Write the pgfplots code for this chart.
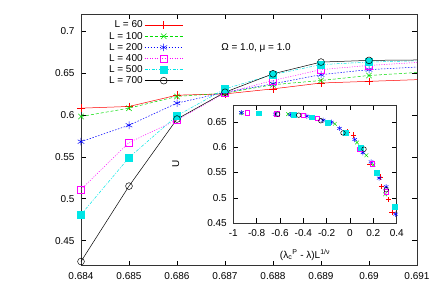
\documentclass[border=0pt]{standalone}
\usepackage{fontspec}
\setmainfont{Liberation Sans}
\usepackage{pgfplots}
\pgfplotsset{compat=1.18}
\definecolor{gred}{RGB}{255,0,0}
\definecolor{ggreen}{RGB}{0,220,0}
\definecolor{gblue}{RGB}{0,0,255}
\definecolor{gmag}{RGB}{255,0,255}
\definecolor{gcyan}{RGB}{0,230,230}
\pgfdeclareplotmark{hlinemark}{\pgfpathmoveto{\pgfpoint{-0.67cm}{0pt}}\pgfpathlineto{\pgfpoint{0.67cm}{0pt}}\pgfusepathqstroke}
\begin{document}
\fontsize{10}{12}\selectfont
\begin{tikzpicture}
\path[use as bounding box] (-81pt,-39.3pt) rectangle (355pt,265.7pt);
\begin{axis}[
  at={(0pt,0pt)}, anchor=south west,
  scale only axis, width=336pt, height=251.4pt,
  xmin=0.684, xmax=0.691, ymin=0.42, ymax=0.72,
  xtick={0.684,0.685,0.686,0.687,0.688,0.689,0.69,0.691},
  xticklabels={0.684,0.685,0.686,0.687,0.688,0.689,0.69,0.691},
  ytick={0.45,0.5,0.55,0.6,0.65,0.7},
  yticklabels={0.45,0.5,0.55,0.6,0.65,0.7},
  tick align=inside, major tick length=5pt,
  tick style={black, line width=0.5pt},
  axis line style={line width=0.7pt, black!80},
  ticklabel style={font=\fontsize{10}{12}\selectfont},
  xticklabel style={yshift=-3pt},
  yticklabel style={xshift=-3pt},
  legend style={at={(rel axis cs:0.3125,0.99)}, anchor=north east, draw=none, fill=none,
    font=\fontsize{10}{12}\selectfont, row sep=-1.4pt},
  legend cell align=right,
  legend plot pos=right,
  legend image code/.code={\draw[#1, only marks, mark=hlinemark, mark options={}] plot coordinates {(0.67cm,0cm)}; \draw[#1, only marks] plot coordinates {(0.67cm,0cm)};},
]
\addplot[gred, line width=0.5pt, mark=+, mark size=3.8pt, mark options={solid}] coordinates {(0.684,0.608) (0.685,0.610) (0.686,0.6235) (0.687,0.625) (0.688,0.631) (0.689,0.638) (0.690,0.640)};
\addlegendentry{L = 60}
\addplot[ggreen, line width=0.5pt, dash pattern=on 3pt off 2pt, mark=x, mark size=3.8pt, mark options={solid}] coordinates {(0.684,0.598) (0.685,0.608) (0.686,0.622) (0.687,0.626) (0.688,0.636) (0.689,0.641) (0.690,0.647)};
\addlegendentry{L = 100}
\addplot[gblue, line width=0.5pt, dash pattern=on 1.5pt off 1.5pt, mark=asterisk, mark size=3.8pt, mark options={solid}] coordinates {(0.684,0.568) (0.685,0.5876) (0.686,0.614) (0.687,0.627) (0.688,0.637) (0.689,0.648) (0.690,0.654)};
\addlegendentry{L = 200}
\addplot[gmag, line width=0.5pt, dash pattern=on 1pt off 1.5pt, mark=square, mark size=3.5pt, mark options={solid}] coordinates {(0.684,0.511) (0.685,0.567) (0.686,0.594) (0.687,0.626) (0.688,0.641) (0.689,0.654) (0.690,0.659)};
\addlegendentry{L = 400}
\addplot[gcyan, line width=0.5pt, dash pattern=on 3pt off 1.5pt on 1pt off 1.5pt, mark=square*, mark size=3.5pt, mark options={solid, fill=gcyan}] coordinates {(0.684,0.481) (0.685,0.549) (0.686,0.599) (0.687,0.631) (0.688,0.648) (0.689,0.660) (0.690,0.663)};
\addlegendentry{L = 500}
\addplot[black, line width=0.5pt, mark=o, mark size=3.4pt, mark options={solid}] coordinates {(0.684,0.425) (0.685,0.515) (0.686,0.595) (0.687,0.627) (0.688,0.649) (0.689,0.663) (0.690,0.665)};
\addlegendentry{L = 700}
\addplot[forget plot, gred, line width=0.5pt] coordinates {(0.690,0.640) (0.692,0.644)};
\addplot[forget plot, ggreen, line width=0.5pt, dash pattern=on 3pt off 2pt] coordinates {(0.690,0.647) (0.692,0.654)};
\addplot[forget plot, gblue, line width=0.5pt, dash pattern=on 1.5pt off 1.5pt] coordinates {(0.690,0.654) (0.692,0.660)};
\addplot[forget plot, gmag, line width=0.5pt, dash pattern=on 1pt off 1.5pt] coordinates {(0.690,0.659) (0.692,0.666)};
\addplot[forget plot, gcyan, line width=0.5pt, dash pattern=on 3pt off 1.5pt on 1pt off 1.5pt] coordinates {(0.690,0.663) (0.692,0.666)};
\addplot[forget plot, black, line width=0.5pt] coordinates {(0.690,0.665) (0.692,0.666)};
\node[anchor=west] at (axis cs:0.68685,0.6804) {Ω = 1.0, μ = 1.0};
\node at (rel axis cs:0.5,-0.1245) {λ};
\node[rotate=90] at (rel axis cs:-0.1756,0.5) {U};
\end{axis}
\begin{axis}[
  at={(152.3pt,42.4pt)}, anchor=south west,
  scale only axis, width=163.4pt, height=118.3pt,
  xmin=-1, xmax=0.4, ymin=0.45, ymax=0.683,
  xtick={-1,-0.8,-0.6,-0.4,-0.2,0,0.2,0.4},
  xticklabels={-1,-0.8,-0.6,-0.4,-0.2,0,0.2,0.4},
  ytick={0.45,0.5,0.55,0.6,0.65},
  yticklabels={0.45,0.5,0.55,0.6,0.65},
  tick align=inside, major tick length=5pt,
  tick style={black, line width=0.5pt},
  axis line style={line width=0.7pt, black!80},
  axis background/.style={fill=white},
  ticklabel style={font=\fontsize{10}{12}\selectfont},
  xticklabel style={yshift=-3pt},
  yticklabel style={xshift=-3pt},
  clip=false,
]
\addplot[gred, only marks, mark=+, mark size=2.6pt, line width=0.5pt] coordinates {(-0.02,0.630) (0.03,0.624) (0.17,0.566) (0.26,0.541) (0.27,0.522) (0.33,0.497) (0.36,0.471)};
\addplot[ggreen, only marks, mark=x, mark size=2.6pt, line width=0.5pt] coordinates {(-0.93,0.667) (-0.53,0.665) (-0.13,0.646) (-0.03,0.627) (0.06,0.609) (0.14,0.584) (0.20,0.565) (0.30,0.507)};
\addplot[gblue, only marks, mark=asterisk, mark size=2.6pt, line width=0.5pt] coordinates {(-0.93,0.668) (-0.64,0.665) (-0.51,0.664) (-0.37,0.661) (-0.23,0.653) (-0.16,0.649) (-0.09,0.637) (0.04,0.615) (0.11,0.589) (0.18,0.571) (0.25,0.539) (0.31,0.522) (0.39,0.468)};
\addplot[gmag, only marks, mark=square, mark size=2.4pt, line width=0.5pt] coordinates {(-0.88,0.667) (-0.63,0.665) (-0.40,0.663) (-0.28,0.657) (0.08,0.596) (0.19,0.568) (0.31,0.512)};
\addplot[gcyan, only marks, mark=square*, mark size=2.4pt, mark options={fill=gcyan}] coordinates {(-0.78,0.667) (-0.48,0.664) (-0.33,0.659) (-0.19,0.648) (-0.04,0.628) (0.09,0.599) (0.23,0.550) (0.38,0.482)};
\addplot[black, only marks, mark=o, mark size=2.3pt, line width=0.5pt] coordinates {(-0.62,0.665) (-0.44,0.663) (-0.25,0.652) (-0.06,0.628) (0.12,0.596) (0.31,0.516)};
\node[rotate=90] at (rel axis cs:-0.3525,0.501) {U};
\node at (rel axis cs:0.439,-0.268) {(λ\textsubscript{c}\textsuperscript{P} - λ)L\textsuperscript{1/ν}};
\end{axis}
\end{tikzpicture}
\end{document}
